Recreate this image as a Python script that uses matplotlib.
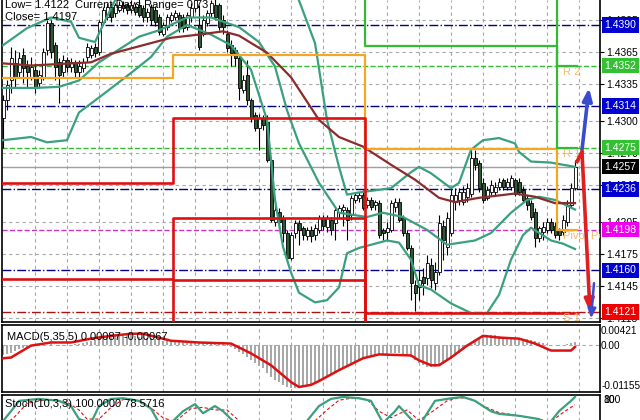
import numpy as np
import matplotlib.pyplot as plt

plt.rcParams['font.family'] = ['Liberation Sans', 'DejaVu Sans']
plt.rcParams['font.size'] = 8

# 30 min candles, values in pips above 1.4000
opens = [303, 320, 338, 354, 346, 362, 352, 340, 348, 336,
         341, 367, 392, 371, 355, 346, 357, 351, 354, 346,
         350, 360, 362, 369, 365, 393, 397, 407, 401, 404,
         409, 409, 404, 407, 409, 406, 397, 407, 404, 397,
         382, 388, 395, 397, 399, 397, 388, 397, 406, 390,
         382, 392, 401, 409, 409, 395, 382, 371, 367, 359,
         329, 343, 320, 306, 293, 303, 299, 263, 205, 215,
         209, 195, 172, 195, 204, 200, 192, 198, 193, 198,
         209, 201, 207, 204, 215, 217, 217, 212, 226, 228,
         231, 221, 226, 221, 223, 198, 196, 198, 219, 224,
         209, 195, 181, 146, 144, 154, 153, 165, 148, 158,
         202, 182, 195, 224, 226, 224, 229, 232, 265, 261,
         242, 228, 233, 233, 238, 245, 238, 238, 245, 243,
         235, 228, 223, 215, 190, 196, 198, 205, 202, 198,
         196, 205, 221, 237]
highs = [324, 338, 369, 367, 365, 368, 357, 360, 354, 348,
         368, 395, 395, 374, 359, 362, 360, 359, 357, 357,
         359, 373, 371, 373, 395, 407, 411, 411, 411, 412,
         412, 411, 413, 411, 415, 409, 406, 410, 408, 400,
         393, 400, 402, 404, 402, 400, 402, 411, 418, 409,
         399, 404, 413, 416, 411, 399, 385, 376, 369, 362,
         343, 357, 322, 308, 307, 306, 306, 266, 221, 218,
         212, 198, 196, 207, 207, 202, 201, 202, 203, 212,
         212, 212, 210, 218, 221, 222, 219, 231, 233, 233,
         235, 229, 229, 226, 226, 200, 205, 226, 228, 228,
         212, 198, 184, 151, 160, 162, 174, 172, 168, 212,
         207, 215, 237, 237, 237, 239, 242, 275, 273, 263,
         247, 239, 245, 243, 247, 247, 247, 249, 247, 247,
         239, 231, 226, 218, 202, 205, 209, 209, 205, 200,
         212, 226, 242, 263]
lows = [275, 310, 326, 332, 340, 336, 332, 338, 326, 331,
        338, 362, 359, 338, 317, 341, 346, 346, 341, 341,
        346, 355, 359, 360, 362, 390, 395, 393, 397, 402,
        402, 400, 401, 399, 397, 393, 393, 390, 389, 381,
        380, 385, 393, 395, 383, 383, 385, 393, 402, 367,
        380, 389, 397, 395, 385, 382, 365, 352, 352, 320,
        326, 315, 299, 291, 273, 292, 262, 205, 202, 200,
        187, 168, 170, 190, 184, 188, 188, 187, 188, 195,
        198, 196, 193, 188, 209, 202, 188, 207, 223, 224,
        217, 218, 217, 217, 190, 188, 188, 196, 215, 205,
        192, 179, 132, 122, 132, 137, 146, 143, 142, 156,
        170, 174, 192, 217, 221, 221, 224, 229, 254, 233,
        223, 226, 231, 231, 235, 235, 235, 235, 230, 231,
        223, 217, 207, 182, 187, 188, 195, 195, 190, 188,
        193, 202, 218, 235]
closes = [320, 334, 359, 341, 359, 350, 346, 351, 331, 343,
          365, 392, 365, 351, 343, 357, 351, 355, 346, 352,
          355, 369, 368, 364, 393, 404, 407, 397, 409, 409,
          406, 404, 409, 402, 399, 397, 402, 395, 393, 383,
          390, 397, 399, 401, 387, 387, 399, 406, 413, 369,
          395, 401, 411, 397, 388, 388, 368, 364, 359, 331,
          338, 320, 303, 293, 303, 296, 263, 207, 217, 205,
          195, 172, 193, 204, 198, 193, 198, 192, 200, 209,
          202, 209, 198, 217, 218, 219, 207, 228, 231, 231,
          218, 226, 219, 224, 193, 195, 200, 223, 224, 207,
          195, 181, 148, 139, 151, 148, 167, 151, 158, 204,
          188, 209, 231, 231, 233, 233, 237, 265, 259, 237,
          226, 235, 240, 238, 243, 238, 243, 247, 232, 233,
          226, 221, 210, 190, 200, 201, 205, 198, 193, 193,
          207, 221, 237, 257]

# bollinger bands (candle index, pips)
bb_up_i = [0, 6, 12, 17, 19, 23, 25, 28, 32, 49, 69, 74, 78, 81, 84, 86, 89, 97, 102, 104,
           107, 112, 114, 117, 120, 124, 128, 129, 132, 137, 143]
bb_up_v = [371, 387, 397, 393, 378, 374, 390, 413, 442, 460, 442, 413, 373, 301, 257, 231, 233, 237, 252, 257,
           251, 237, 242, 273, 282, 284, 279, 271, 262, 261, 257]
bb_mid_i = [0, 8, 14, 19, 24, 34, 39, 46, 52, 59, 64, 68, 71, 74, 79, 84, 91, 95, 100, 106,
            111, 118, 122, 127, 131, 134, 138, 143]
bb_mid_v = [331, 331, 332, 338, 355, 379, 385, 397, 397, 388, 374, 351, 310, 279, 242, 214, 210, 214, 210, 198,
            184, 188, 195, 214, 226, 229, 226, 217]
bb_low_i = [0, 7, 11, 16, 19, 24, 32, 37, 41, 46, 52, 57, 62, 66, 68, 70, 72, 74, 78, 81,
            84, 86, 89, 96, 99, 102, 104, 107, 112, 117, 121, 124, 127, 130, 132, 137, 140, 143]
bb_low_v = [282, 285, 280, 282, 308, 322, 345, 360, 379, 390, 381, 371, 348, 301, 226, 182, 158, 139, 130, 132,
            144, 176, 181, 188, 186, 170, 146, 142, 129, 120, 120, 137, 170, 193, 200, 188, 185, 180]
# moving average
ma_i = [0, 7, 22, 27, 34, 42, 49, 55, 59, 66, 72, 79, 84, 90, 97, 103, 109, 113, 119, 128, 133, 138, 143]
ma_v = [354, 352, 355, 363, 370, 378, 381, 384, 380, 364, 341, 301, 285, 276, 259, 245, 228, 224, 228, 232,
        229, 223, 223]

# daily levels (step lines), one value per day
day_edges = [-1, 42.5, 90.5, 138.5, 143.5]
orange_lv = [1.4340, 1.4362, 1.4274, 1.4198]
red1_lv = [1.4242, 1.4303, 1.4120, 1.4120]
red2_lv = [1.4152, 1.4209, 1.4080, 1.4080]
red3_lv = [1.4080, 1.4151, 1.4080, 1.4080]
green1_lv = [1.4450, 1.4450, 1.4370, 1.4352]
green2_lv = [1.4450, 1.4450, 1.4450, 1.4275]

# pivot levels
lvl_price = [1.4390, 1.4352, 1.4314, 1.4275, 1.4257, 1.4236, 1.4198, 1.4160, 1.4121]
lvl_color = ['#000080', '#33bb33', '#000080', '#33bb33', '#a0a0a0', '#000080', '#cc33cc', '#000080', '#aa1111']
lvl_style = ['dashdot', 'dashed', 'dashdot', 'dashed', 'solid', 'dashdot', 'dashed', 'dashdot', 'dashdot']
box_color = ['#0000d0', '#33c033', '#0000d0', '#33c033', '#000000', '#0000d0', '#ee00ee', '#0000d0', '#ee0000']
piv_names = ['R 2', 'R 1', 'Pivot Point', 'S 1']
piv_price = [1.4352, 1.4275, 1.4198, 1.4121]

price_ticks = [1.4395, 1.4365, 1.4335, 1.4300, 1.4270, 1.4240, 1.4205, 1.4175, 1.4145, 1.4115]

# forecast arrows
arrow_up = [(144.75, 1.4273), (146.5, 1.4331)]
arrow_dn = [(143.5, 1.4262), (144.75, 1.4271), (146.75, 1.4121)]
arrow_dn2 = [(147.75, 1.4148), (147.0, 1.4115)]

# macd (x1e-4)
macd_hist = [-29, -27, -24, -18, -13, -9, -6, -5, -4, -3,
             -2, 0, 1, -1, -3, -3, -1, 0, 1, 3,
             4, 6, 9, 12, 16, 20, 23, 25, 26, 27,
             27, 26, 26, 24, 22, 21, 19, 18, 15, 13,
             11, 10, 10, 11, 12, 11, 11, 10, 10, 8,
             8, 7, 7, 6, 4, 2, -2, -6, -14, -20,
             -28, -36, -45, -53, -60, -68, -80, -92, -100, -108,
             -115, -121, -124, -123, -121, -119, -116, -112, -107, -101,
             -96, -90, -84, -78, -72, -66, -60, -54, -50, -46,
             -42, -38, -34, -31, -29, -28, -27, -25, -25, -25,
             -27, -30, -36, -45, -52, -58, -63, -65, -64, -60,
             -55, -48, -40, -32, -24, -15, -6, 3, 12, 19,
             24, 27, 28, 27, 25, 23, 21, 20, 19, 18,
             17, 15, 13, 10, 7, 4, 1, -1, -2, -3,
             -2, 1, 5, 8.7]
sig_i = [0, 2, 7, 12, 17, 22, 27, 32, 35, 42, 49, 57, 62, 67, 72, 74, 77, 79, 84, 90,
         94, 102, 104, 107, 109, 112, 116, 120, 124, 129, 133, 137, 142, 143]
sig_v = [-39, -37, -3, 6, 6, 17, 25, 31, 31, 11, 6, 3, -25, -59, -107, -121, -115, -104, -73, -39,
         -28, -31, -45, -59, -59, -37, -3, 25, 20, 17, 3, -17, -17, -6.7]

# stochastic
st_i = [0, 2, 4, 9, 14, 17, 19, 22, 24, 27, 30, 34, 37, 39, 42, 45, 48, 50, 53, 55,
        58, 74, 79, 82, 85, 89, 92, 95, 98, 99, 102, 104, 108, 112, 115, 118, 122, 124, 129, 134,
        136, 139, 142, 143]
st_v = [63, 78, 94, 97, 94, 86, 66, 60, 86, 97, 98, 94, 82, 60, 60, 78, 89, 75, 86, 78,
        60, 48, 86, 97, 100, 98, 94, 60, 78, 86, 66, 55, 94, 98, 100, 94, 78, 74, 71, 66,
        55, 78, 94, 100]
ss_i = [0, 3, 6, 11, 16, 19, 21, 24, 27, 30, 33, 36, 40, 43, 47, 50, 53, 56, 60, 76,
        81, 84, 88, 91, 94, 97, 101, 104, 107, 111, 114, 117, 120, 124, 128, 133, 137, 140, 143]
ss_v = [55, 70, 90, 96, 92, 80, 66, 66, 84, 96, 96, 88, 68, 62, 82, 84, 80, 80, 58, 52,
        80, 95, 99, 96, 78, 68, 80, 64, 76, 94, 99, 97, 86, 76, 72, 67, 62, 76, 88]


def px(v):
    return 1.4 + np.asarray(v, dtype=float) / 1e4


W, H = 640, 420
fig = plt.figure(figsize=(6.4, 4.2), dpi=100)


def rect(x0, y0, x1, y1):
    return [x0 / W, 1 - y1 / H, (x1 - x0) / W, (y1 - y0) / H]


ax = fig.add_axes(rect(2, 0, 600, 322))
axm = fig.add_axes(rect(2, 325, 600, 392))
axs = fig.add_axes(rect(2, 395, 600, 460))

grid_kw = dict(color='#a8a8a8', linestyle=(0, (3, 3)), linewidth=0.8)
for a in (ax, axm, axs):
    a.set_xlim(-0.25, 149.25)
    a.set_xticks(range(8, 150, 8))
    a.tick_params(axis='x', length=0, labelbottom=False)
    a.grid(True, axis='x', **grid_kw)
    a.set_axisbelow(True)
    a.yaxis.tick_right()
    a.tick_params(axis='y', length=3, width=0.8, pad=1.5, labelsize=7.5)
    for s in a.spines.values():
        s.set_linewidth(1.2)

# ---- main panel ----
ax.spines['top'].set_visible(False)
ax.set_ylim(1.41116, 1.44134)
ax.set_yticks(price_ticks)
ax.set_yticklabels([f'{t:.4f}' for t in price_ticks])
ax.grid(True, axis='y', **grid_kw)

for p, col, ls in zip(lvl_price, lvl_color, lvl_style):
    ax.axhline(p, color=col, linestyle=ls, linewidth=1.0, zorder=1)

idx = np.arange(len(closes))
o, h, l, c = px(opens), px(highs), px(lows), px(closes)
up = c >= o
ax.vlines(idx, l, h, color='black', linewidth=0.8, zorder=3)
body_h = np.maximum(np.abs(c - o), 0.00003)
ax.bar(idx, body_h, bottom=np.minimum(o, c), width=0.75,
       color=['white' if u else '#2d5a35' for u in up],
       edgecolor='black', linewidth=0.6, zorder=4)

teal = '#3aa07e'
for xi, yv in ((bb_up_i, bb_up_v), (bb_mid_i, bb_mid_v), (bb_low_i, bb_low_v)):
    ax.plot(xi, px(yv), color=teal, linewidth=1.6, zorder=5)
ax.plot(ma_i, px(ma_v), color='#8b2b2b', linewidth=1.6, zorder=5)


def step(vals, col, lw):
    ax.step(day_edges, vals + [vals[-1]], where='post', color=col, linewidth=lw, zorder=6)


step(orange_lv, '#f5a623', 1.6)
step(green1_lv, '#33bb33', 1.6)
step(green2_lv, '#33bb33', 1.6)
step(red2_lv, '#dd1111', 1.9)
step(red3_lv, '#dd1111', 1.9)
step(red1_lv, '#dd1111', 1.9)

for name, p in zip(piv_names, piv_price):
    ax.text(140, p - 0.0001, name, color='#f0bb70', fontsize=8, va='top', ha='left',
            clip_on=True, zorder=7)

for p, col in zip(lvl_price, box_color):
    ax.text(1.007, p, f'{p:.4f}', transform=ax.get_yaxis_transform(), ha='left', va='center',
            color='white', fontsize=7.5, clip_on=False, zorder=10,
            bbox=dict(boxstyle='square,pad=0.25', fc=col, ec='none'))

ax.annotate('', xy=arrow_up[1], xytext=arrow_up[0], zorder=8,
            arrowprops=dict(arrowstyle='-|>,head_width=0.35,head_length=0.9', color='#3a4bd0',
                            lw=2.6, shrinkA=0, shrinkB=0))
ax.plot([arrow_dn[0][0], arrow_dn[1][0]], [arrow_dn[0][1], arrow_dn[1][1]],
        color='#e02020', linewidth=2.6, zorder=8)
ax.annotate('', xy=arrow_dn[2], xytext=arrow_dn[1], zorder=8,
            arrowprops=dict(arrowstyle='-|>,head_width=0.35,head_length=0.9', color='#e02020',
                            lw=2.6, shrinkA=0, shrinkB=0))
ax.annotate('', xy=arrow_dn2[1], xytext=arrow_dn2[0], zorder=9,
            arrowprops=dict(arrowstyle='-|>,head_width=0.3,head_length=0.7', color='#3a4bd0',
                            lw=1.8, shrinkA=0, shrinkB=0))

fig.text(5 / W, 1 - 5 / H, 'Low= 1.4122', fontsize=8, va='center')
fig.text(75 / W, 1 - 5 / H, 'Current Days Range= 0.73', fontsize=8, va='center')
fig.text(5 / W, 1 - 17 / H, 'Close= 1.4197', fontsize=8, va='center')

# ---- macd panel ----
axm.set_ylim(-0.01353, 0.00559)
axm.set_yticks([0.00421, 0.0, -0.01155])
axm.set_yticklabels(['0.00421', '0.00', '-0.01155'])
axm.tick_params(axis='y', length=0, pad=0.8, labelsize=7.2)
axm.axhline(0, **grid_kw)
axm.bar(idx, np.array(macd_hist) / 1e4, width=0.35, color='#a8a8a8', zorder=2)
axm.plot(sig_i, np.array(sig_v) / 1e4, color='#dd1111', linewidth=1.8, zorder=3)
axm.text(0.008, 0.82, 'MACD(5,35,5) 0.00087 -0.00067', transform=axm.transAxes, fontsize=8,
         va='center')

# ---- stochastic panel ----
axs.spines['bottom'].set_visible(False)
axs.set_ylim(3, 103)
axs.set_yticks([])
axs.plot(ss_i, ss_v, color='#dd1111', linewidth=0.8, linestyle=(0, (3, 2)), zorder=2)
axs.plot(st_i, st_v, color=teal, linewidth=1.6, zorder=3)
fig.text(5 / W, 1 - 404 / H, 'Stoch(10,3,3) 100.0000 78.5716', fontsize=8, va='center')
fig.text(603 / W, 1 - 400 / H, '100', fontsize=7.5, va='center')
fig.text(603 / W, 1 - 400 / H, '80', fontsize=7.5, va='center')

fig.savefig('out.png', dpi=100)
